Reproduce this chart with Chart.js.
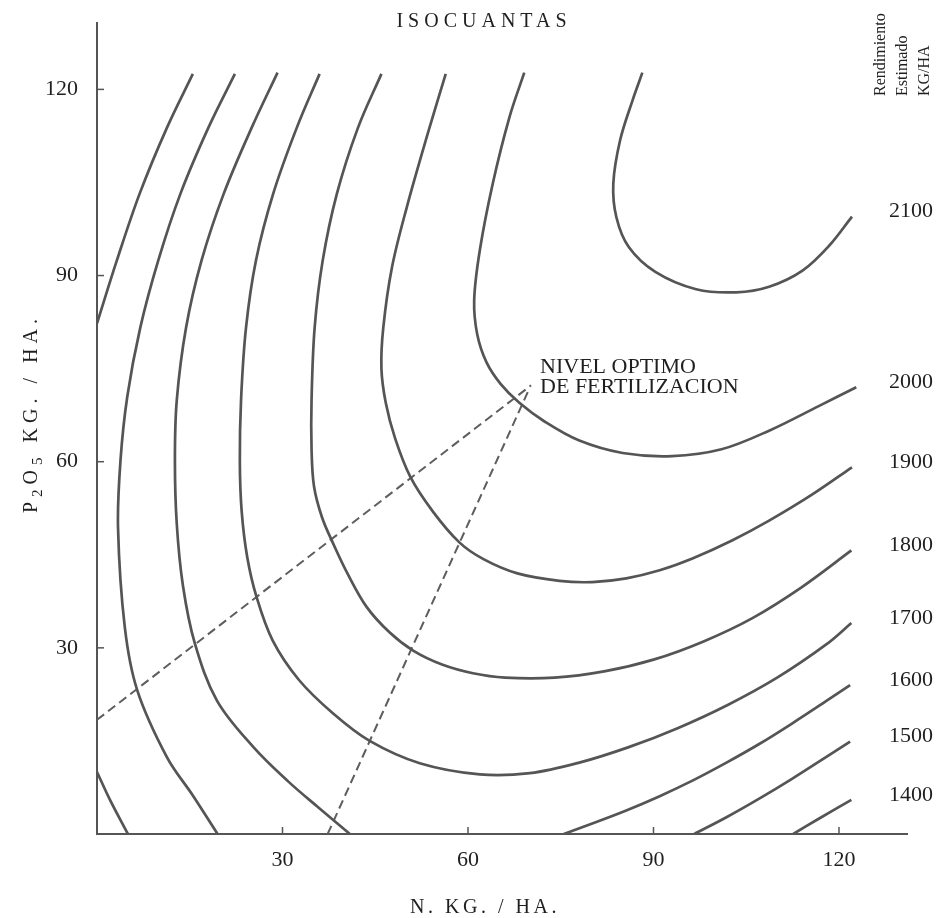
<!DOCTYPE html>
<html>
<head>
<meta charset="utf-8">
<title>Isocuantas</title>
<script src="https://cdn.jsdelivr.net/npm/chart.js@4.4.0/dist/chart.umd.min.js"></script>
<style>
    body { margin: 0; background: #fff; }
    #wrap { width: 940px; height: 918px; }
</style>
</head>
<body>
<div id="wrap"><canvas id="myChart" width="940" height="918"></canvas></div>
<script>
// rendimiento estimado de cada isocuanta (kg/ha)
let niveles = [1400, 1500, 1600, 1700, 1800, 1900, 2000, 2100]

// marcas de los ejes
let ticksN = [30, 60, 90, 120]
let ticksP = [30, 60, 90, 120]

// puntos [N, P2O5] en kg/ha
let iso1400a = [[15.5, 122.5], [11.3, 113.8], [6.9, 103.2], [3.2, 92.4], [0, 82.3]]
let iso1400b = [[0, 10.0], [2.1, 5.5], [5.0, 0]]
let iso1400c = [[112.6, 0], [116.8, 2.5], [122.0, 5.5]]

let iso1500a = [[22.3, 122.5], [18.0, 113.8], [13.5, 103.2], [9.9, 92.4], [7.0, 81.6], [4.9, 70.5], [3.8, 60.2],
    [3.4, 49.4], [4.5, 33.3], [6.5, 23.2], [11.3, 12.4], [15.5, 6.2], [19.5, 0]]
let iso1500b = [[96.6, 0], [101.8, 2.7], [107.1, 5.7], [112.4, 8.9], [117.9, 12.4], [121.8, 14.9]]

let iso1600a = [[29.2, 122.7], [25.0, 113.8], [20.5, 103.2], [16.9, 92.4], [14.4, 81.6], [12.9, 69.9], [12.6, 60.2],
    [12.9, 50.0], [13.9, 40.0], [15.8, 30.8], [19.4, 21.5], [25.3, 14.0], [31.0, 8.4], [35.9, 4.2], [40.9, 0]]
let iso1600b = [[75.5, 0], [80.1, 1.7], [85.6, 3.8], [91.0, 6.1], [96.3, 8.6], [101.8, 11.5], [107.1, 14.5],
    [112.4, 17.8], [117.9, 21.4], [121.8, 24.0]]

let iso1700 = [[36.0, 122.5], [32.3, 113.8], [28.5, 103.2], [25.7, 92.4], [24.1, 81.6], [23.3, 70.0], [23.1, 60.0],
    [23.4, 52.0], [24.3, 44.6], [25.8, 38.2], [28.4, 31.2], [32.6, 24.9], [38.1, 19.5], [44.1, 15.0], [52.2, 11.4],
    [61.9, 9.6], [70.0, 9.8], [78.0, 11.5], [86.0, 14.0], [94.0, 17.1], [102.0, 20.8], [110.0, 25.2], [118.0, 30.6],
    [122.0, 34.0]]

let iso1800 = [[46.0, 122.5], [42.2, 113.8], [38.8, 103.2], [36.5, 92.4], [35.2, 81.6], [34.7, 70.0], [34.7, 62.0],
    [35.1, 56.0], [36.4, 51.0], [38.2, 46.8], [40.5, 42.0], [43.6, 36.6], [47.3, 32.5], [51.2, 29.5], [55.8, 27.3],
    [60.8, 25.9], [66.0, 25.2], [74.0, 25.2], [82.0, 26.2], [90.0, 28.1], [98.0, 31.0], [106.0, 34.8], [114.0, 39.8],
    [122.0, 45.7]]

let iso1900 = [[56.4, 122.5], [53.5, 112.9], [50.1, 101.0], [47.7, 91.3], [46.3, 81.6], [46.0, 75.0], [46.7, 69.5],
    [48.2, 63.8], [50.7, 57.5], [54.3, 52.0], [58.6, 47.0], [62.5, 44.3], [68.0, 42.0], [74.8, 40.8], [80.1, 40.6],
    [85.6, 41.2], [91.0, 42.5], [96.3, 44.4], [102.7, 47.3], [108.7, 50.5], [115.5, 54.6], [122.1, 59.1]]

let iso2000 = [[69.1, 122.7], [66.7, 115.5], [64.0, 104.8], [61.9, 94.0], [61.0, 86.0], [61.5, 80.5], [63.0, 76.0],
    [65.3, 72.5], [68.3, 69.5], [72.5, 66.4], [78.0, 63.4], [85.0, 61.4], [93.0, 60.9], [101.0, 62.0], [108.7, 65.0],
    [116.8, 69.0], [122.8, 72.0]]

let iso2100 = [[88.2, 122.7], [86.6, 118.2], [84.6, 111.8], [83.5, 104.8], [84.0, 99.4], [86.0, 94.6], [90.3, 90.6],
    [96.9, 87.8], [103.4, 87.3], [108.7, 88.2], [114.1, 90.8], [118.4, 94.8], [122.1, 99.5]]

// lineas de expansion hacia el nivel optimo
let lineaP = [[0, 18.4], [70.2, 72.3]]
let lineaN = [[37.3, 0], [69.8, 71.5]]
let optimo = [70.2, 72.3]

let curvas = [iso1400a, iso1400b, iso1400c, iso1500a, iso1500b, iso1600a, iso1600b, iso1700, iso1800, iso1900, iso2000, iso2100]
// tramo que llega al borde derecho, en el orden de niveles
let finales = [iso1400c, iso1500b, iso1600b, iso1700, iso1800, iso1900, iso2000, iso2100]

let serif = "'Liberation Serif', 'DejaVu Serif', serif"
let colorLinea = "#555555"
let colorTexto = "#1f1f1f"

function puntos(arr) {
    return arr.map(p => ({ x: p[0], y: p[1] }))
}

let datasets = curvas.map(c => ({
    data: puntos(c),
    showLine: true,
    borderColor: colorLinea,
    borderWidth: 2.7,
    pointRadius: 0,
    tension: 0.35,
    fill: false,
}))

;[lineaP, lineaN].forEach(l => {
    datasets.push({
        data: puntos(l),
        showLine: true,
        borderColor: "#5e5e5e",
        borderWidth: 2,
        borderDash: [9, 5],
        pointRadius: 0,
        fill: false,
    })
})

const textos = {
    id: "textos",
    afterDraw(chart) {
        const { ctx, chartArea, scales } = chart
        let x = scales.x
        let y = scales.y
        ctx.save()

        // marcas cortas hacia adentro
        ctx.strokeStyle = colorLinea
        ctx.lineWidth = 1.5
        x.ticks.forEach(t => {
            let px = x.getPixelForValue(t.value)
            ctx.beginPath()
            ctx.moveTo(px, chartArea.bottom)
            ctx.lineTo(px, chartArea.bottom - 7)
            ctx.stroke()
        })
        y.ticks.forEach(t => {
            let py = y.getPixelForValue(t.value)
            ctx.beginPath()
            ctx.moveTo(chartArea.left, py)
            ctx.lineTo(chartArea.left + 7, py)
            ctx.stroke()
        })

        ctx.fillStyle = colorTexto

        // rendimiento al final de cada isocuanta
        ctx.font = "22px " + serif
        ctx.textAlign = "right"
        ctx.textBaseline = "middle"
        niveles.forEach((n, i) => {
            let fin = finales[i][finales[i].length - 1]
            ctx.fillText(String(n), 933, y.getPixelForValue(fin[1]) - 5)
        })

        // titulo
        ctx.textBaseline = "alphabetic"
        ctx.textAlign = "center"
        ctx.font = "20px " + serif
        ctx.letterSpacing = "5px"
        ctx.fillText("ISOCUANTAS", 484, 27)

        // titulo eje x
        ctx.font = "20px " + serif
        ctx.letterSpacing = "3.5px"
        ctx.fillText("N. KG. / HA.", 485, 913)

        // nivel optimo
        ctx.letterSpacing = "0px"
        ctx.textAlign = "left"
        ctx.font = "22px " + serif
        let ox = x.getPixelForValue(optimo[0]) + 9
        let oy = y.getPixelForValue(optimo[1])
        ctx.fillText("NIVEL OPTIMO", ox, oy - 12)
        ctx.fillText("DE FERTILIZACION", ox, oy + 8)

        // titulo eje y con subindices
        ctx.save()
        ctx.translate(37, 513)
        ctx.rotate(-Math.PI / 2)
        ctx.letterSpacing = "5px"
        let partes = [["P", false], ["2", true], ["O", false], ["5", true], [" KG. / HA.", false]]
        let pos = 0
        partes.forEach(p => {
            ctx.font = (p[1] ? "15px " : "20px ") + serif
            ctx.fillText(p[0], pos, p[1] ? 5 : 0)
            pos += ctx.measureText(p[0]).width
        })
        ctx.restore()

        // leyenda de rendimiento
        ctx.save()
        ctx.translate(885, 96)
        ctx.rotate(-Math.PI / 2)
        ctx.letterSpacing = "0px"
        ctx.font = "16px " + serif
        ctx.fillText("Rendimiento", 0, 0)
        ctx.fillText("Estimado", 0, 22)
        ctx.fillText("KG/HA", 0, 44)
        ctx.restore()

        ctx.restore()
    },
}

const ctx = document.getElementById("myChart").getContext("2d")
let myChart = new Chart(ctx, {
    type: "scatter",
    data: { datasets: datasets },
    plugins: [textos],
    options: {
        responsive: false,
        animation: false,
        layout: { padding: { top: 23, right: 33, left: 0, bottom: 0 } },
        plugins: {
            legend: { display: false },
            tooltip: { enabled: false },
        },
        scales: {
            x: {
                type: "linear",
                min: 0,
                max: 131,
                afterBuildTicks: s => { s.ticks = ticksN.map(v => ({ value: v })) },
                afterFit: s => {
                    s.height = 84
                    s.paddingLeft = 0
                    s.paddingRight = 0
                },
                ticks: {
                    font: { family: serif, size: 22 },
                    color: colorTexto,
                    padding: 13,
                    maxRotation: 0,
                    autoSkip: false,
                },
                grid: { display: false, drawTicks: false },
                border: { display: true, color: colorLinea, width: 2 },
            },
            y: {
                type: "linear",
                min: 0,
                max: 130.7,
                afterBuildTicks: s => { s.ticks = ticksP.map(v => ({ value: v })) },
                afterFit: s => {
                    s.width = 97
                    s.paddingTop = 0
                    s.paddingBottom = 0
                },
                ticks: {
                    font: { family: serif, size: 22 },
                    color: colorTexto,
                    padding: 19,
                    autoSkip: false,
                },
                grid: { display: false, drawTicks: false },
                border: { display: true, color: colorLinea, width: 2 },
            },
        },
    },
})
</script>
</body>
</html>
